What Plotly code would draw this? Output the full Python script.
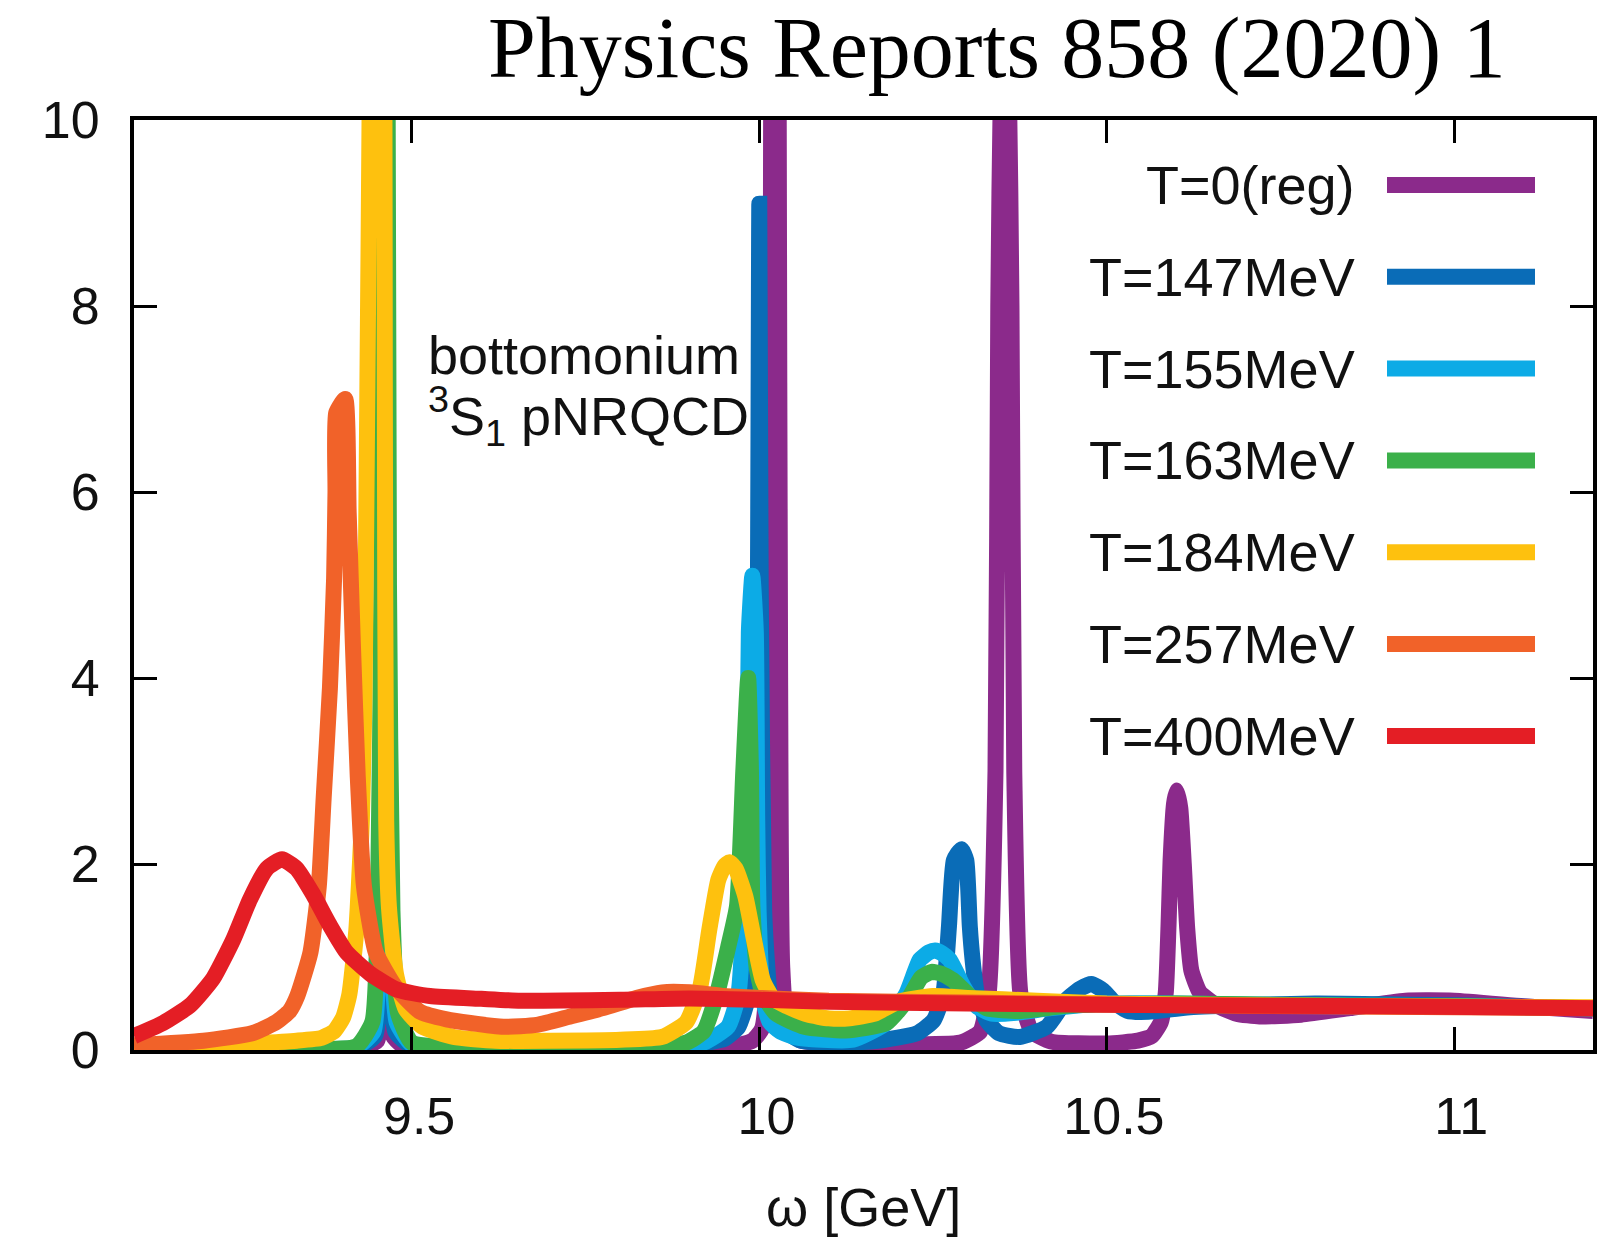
import plotly.graph_objects as go

# Bottomonium 3S1 spectral functions (pNRQCD) at several temperatures
labels = ["T=0(reg)", "T=147MeV", "T=155MeV", "T=163MeV", "T=184MeV", "T=257MeV", "T=400MeV"]
colors = ["#8B2A8B", "#0A6CB7", "#0CABE6", "#3BB04A", "#FEC10E", "#F16229", "#E41E25"]

omega_T0 = [9.10, 9.30, 9.42, 9.45, 9.456, 9.459, 9.4615, 9.464, 9.467, 9.473, 9.49, 9.60, 9.80,
            9.95, 9.99, 10.004, 10.012, 10.017, 10.0225, 10.028, 10.030, 10.033, 10.041, 10.06, 10.10,
            10.20, 10.29, 10.318, 10.330, 10.340, 10.344, 10.348, 10.3535, 10.359, 10.363, 10.367,
            10.376, 10.392, 10.42, 10.50, 10.545, 10.565, 10.578, 10.585, 10.589, 10.592, 10.597,
            10.601, 10.606, 10.611, 10.616, 10.622, 10.634, 10.658, 10.687, 10.72, 10.78, 10.85,
            10.93, 11.00, 11.10, 11.20]
rho_T0 = [0.0, 0.0, 0.01, 0.1, 0.8, 5.0, 30.0, 5.0, 0.8, 0.15, 0.03, 0.0, 0.0,
          0.02, 0.1, 0.23, 0.9, 10.0, 40.0, 10.0, 4.0, 0.9, 0.23, 0.1, 0.07,
          0.06, 0.08, 0.2, 0.6, 3.0, 8.0, 10.5, 11.5, 10.5, 8.0, 3.0,
          0.6, 0.2, 0.09, 0.07, 0.1, 0.15, 0.3, 0.61, 1.33, 2.04, 2.65,
          2.79, 2.6, 2.0, 1.3, 0.85, 0.62, 0.48, 0.39, 0.36, 0.38, 0.45,
          0.53, 0.53, 0.47, 0.42]

omega_T147 = [9.10, 9.30, 9.42, 9.447, 9.455, 9.459, 9.4615, 9.464, 9.468, 9.476, 9.50, 9.60, 9.80,
              9.90, 9.95, 9.97, 9.985, 9.993, 9.998, 10.000, 10.002, 10.007, 10.0115, 10.015, 10.03,
              10.06, 10.12, 10.17, 10.227, 10.251, 10.265, 10.273, 10.280, 10.291, 10.298, 10.303,
              10.307, 10.313, 10.327, 10.345, 10.375, 10.414, 10.442, 10.462, 10.478, 10.495, 10.51,
              10.53, 10.56, 10.62, 10.8, 11.0, 11.2]
rho_T147 = [0.0, 0.0, 0.02, 0.15, 1.0, 5.0, 30.0, 5.0, 1.0, 0.2, 0.04, 0.01, 0.02,
            0.05, 0.12, 0.25, 0.6, 1.5, 5.0, 9.1, 5.0, 1.5, 0.9, 0.6, 0.25,
            0.1, 0.08, 0.1, 0.18, 0.32, 0.61, 1.33, 2.04, 2.16, 2.04, 1.33,
            0.97, 0.61, 0.32, 0.18, 0.14, 0.25, 0.54, 0.66, 0.71, 0.64, 0.52,
            0.42, 0.41, 0.46, 0.5, 0.48, 0.45]

omega_T155 = [9.10, 9.30, 9.42, 9.445, 9.453, 9.458, 9.4615, 9.465, 9.47, 9.478, 9.50, 9.60, 9.80,
              9.88, 9.92, 9.955, 9.97, 9.978, 9.982, 9.985, 9.990, 9.995, 9.997, 9.999, 10.005,
              10.015, 10.03, 10.05, 10.09, 10.135, 10.183, 10.212, 10.231, 10.244, 10.253, 10.263,
              10.274, 10.294, 10.313, 10.335, 10.37, 10.42, 10.5, 10.6, 10.8, 11.0, 11.2]
rho_T155 = [0.0, 0.01, 0.03, 0.2, 1.2, 5.0, 25.0, 5.0, 1.2, 0.3, 0.06, 0.02, 0.03,
            0.05, 0.08, 0.25, 0.6, 1.5, 2.5, 4.5, 5.1, 4.5, 2.5, 1.5, 0.56,
            0.3, 0.2, 0.14, 0.11, 0.11, 0.29, 0.61, 0.97, 1.05, 1.07, 1.04,
            0.97, 0.68, 0.47, 0.39, 0.4, 0.45, 0.5, 0.5, 0.48, 0.47, 0.45]

omega_T163 = [9.10, 9.30, 9.42, 9.443, 9.451, 9.456, 9.4615, 9.467, 9.472, 9.48, 9.50, 9.60, 9.80,
              9.85, 9.895, 9.92, 9.939, 9.955, 9.968, 9.977, 9.984, 9.988, 9.990, 9.996, 10.005,
              10.024, 10.065, 10.124, 10.183, 10.216, 10.233, 10.248, 10.262, 10.279, 10.303, 10.327,
              10.375, 10.45, 10.6, 10.8, 11.0, 11.2]
rho_T163 = [0.01, 0.02, 0.04, 0.3, 1.5, 5.0, 20.0, 5.0, 1.5, 0.4, 0.08, 0.03, 0.03,
            0.04, 0.08, 0.2, 0.6, 1.1, 1.55, 3.0, 4.0, 3.0, 1.55, 0.9, 0.6,
            0.39, 0.25, 0.21, 0.29, 0.57, 0.78, 0.84, 0.82, 0.75, 0.58, 0.45,
            0.42, 0.48, 0.5, 0.48, 0.47, 0.45]

omega_T184 = [9.10, 9.20, 9.334, 9.37, 9.388, 9.401, 9.41, 9.42, 9.428, 9.432, 9.436, 9.439, 9.443,
              9.449, 9.455, 9.4605, 9.461, 9.463, 9.467, 9.477, 9.491, 9.515, 9.56, 9.62, 9.70,
              9.80, 9.86, 9.895, 9.915, 9.928, 9.941, 9.95, 9.957, 9.966, 9.98, 9.992, 10.005,
              10.02, 10.04, 10.07, 10.10, 10.13, 10.166, 10.20, 10.25, 10.30, 10.40, 10.50, 10.70,
              10.90, 11.20]
rho_T184 = [0.03, 0.04, 0.1, 0.13, 0.2, 0.35, 0.6, 1.29, 2.47, 3.9, 7.2, 10.0, 16.0,
            22.0, 16.0, 10.0, 7.2, 2.47, 1.53, 0.82, 0.44, 0.25, 0.14, 0.1, 0.1,
            0.11, 0.14, 0.3, 0.68, 1.29, 1.83, 1.98, 2.02, 1.95, 1.65, 1.2, 0.75,
            0.55, 0.47, 0.38, 0.34, 0.34, 0.39, 0.52, 0.58, 0.56, 0.53, 0.5, 0.48,
            0.47, 0.46]

omega_T257 = [9.10, 9.20, 9.27, 9.305, 9.324, 9.335, 9.354, 9.366, 9.373, 9.382, 9.388, 9.390,
              9.391, 9.404, 9.409, 9.415, 9.422, 9.431, 9.448, 9.477, 9.512, 9.55, 9.584, 9.632,
              9.68, 9.728, 9.775, 9.823, 9.86, 9.90, 9.95, 10.0, 10.1, 10.3, 10.5, 10.8, 11.2]
rho_T257 = [0.05, 0.1, 0.18, 0.3, 0.42, 0.58, 1.05, 1.76, 2.71, 3.89, 5.07, 6.0,
            6.85, 7.0, 5.78, 4.37, 2.95, 1.76, 1.05, 0.67, 0.41, 0.33, 0.29, 0.25,
            0.27, 0.36, 0.45, 0.56, 0.62, 0.62, 0.58, 0.56, 0.53, 0.51, 0.49, 0.47, 0.45]

omega_T400 = [9.10, 9.142, 9.181, 9.214, 9.243, 9.267, 9.291, 9.313, 9.334, 9.358, 9.382, 9.406,
              9.44, 9.478, 9.526, 9.60, 9.656, 9.80, 9.90, 10.0, 10.1, 10.3, 10.6, 10.9, 11.2]
rho_T400 = [0.15, 0.29, 0.48, 0.77, 1.19, 1.62, 1.95, 2.05, 1.95, 1.67, 1.34, 1.05,
            0.82, 0.65, 0.58, 0.55, 0.53, 0.54, 0.555, 0.54, 0.52, 0.5, 0.48, 0.47, 0.45]

omegas = [omega_T0, omega_T147, omega_T155, omega_T163, omega_T184, omega_T257, omega_T400]
rhos = [rho_T0, rho_T147, rho_T155, rho_T163, rho_T184, rho_T257, rho_T400]

x_ticks = [9.5, 10, 10.5, 11]
x_ticktext = ["9.5", "10", "10.5", "11"]
y_ticks = [0, 2, 4, 6, 8, 10]

SANS = "Liberation Sans, Arial, sans-serif"
LINE_W = 16
NBSP = "\u00a0"

fig = go.Figure()

# channel label, placed underneath the curves
fig.add_trace(go.Scatter(
    x=[9.523, 9.523], y=[7.41, 6.76], mode="text",
    text=["bottomonium", "<sup>3</sup>S<sub>1</sub> pNRQCD"],
    textposition="middle right",
    textfont=dict(family=SANS, size=54, color="#111"),
    showlegend=False, hoverinfo="skip"))

for lab, col, xs, ys in zip(labels, colors, omegas, rhos):
    fig.add_trace(go.Scatter(
        x=xs, y=ys, mode="lines", name=lab,
        line=dict(color=col, width=LINE_W, shape="spline", smoothing=0.5),
        showlegend=False))

# hand-placed key: right-aligned labels with line samples on their right
leg_y_px = [184.9, 276.7, 368.6, 460.4, 552.2, 644.1, 735.9]
plot_top, plot_bottom, plot_left, plot_right = 120, 1050, 134, 1593
for lab, col, ypx in zip(labels, colors, leg_y_px):
    py = (plot_bottom - ypx) / (plot_bottom - plot_top)
    fig.add_annotation(x=(1357 - plot_left) / (plot_right - plot_left), y=py,
                       xref="paper", yref="paper", xanchor="right", yanchor="middle",
                       text=lab, showarrow=False,
                       font=dict(family=SANS, size=54, color="#111"))
    fig.add_shape(type="line", xref="paper", yref="paper",
                  x0=(1387 - plot_left) / (plot_right - plot_left),
                  x1=(1535 - plot_left) / (plot_right - plot_left),
                  y0=py, y1=py, line=dict(color=col, width=16))

fig.add_annotation(x=(997 - plot_left) / (plot_right - plot_left), y=1 + (120 - 48) / 930,
                   xref="paper", yref="paper", xanchor="center", yanchor="middle",
                   text="Physics Reports 858 (2020) 1", showarrow=False,
                   font=dict(family="Liberation Serif, Times New Roman, serif", size=86, color="black"))

fig.add_annotation(x=0.5, y=(1050 - 1207) / 930, xref="paper", yref="paper",
                   xanchor="center", yanchor="middle", text="ω [GeV]", showarrow=False,
                   font=dict(family=SANS, size=54, color="#111"))

axis_common = dict(showline=True, linecolor="black", linewidth=4, mirror="ticks",
                   ticks="inside", ticklen=23, tickwidth=3, tickcolor="black",
                   showgrid=False, zeroline=False,
                   tickfont=dict(family=SANS, size=52, color="#111"))

fig.update_xaxes(range=[9.1, 11.2], tickvals=x_ticks,
                 ticktext=[NBSP + t for t in x_ticktext],
                 ticklabelstandoff=18, **axis_common)
fig.update_yaxes(range=[0, 10], tickvals=y_ticks, ticklabelstandoff=20, **axis_common)

fig.update_layout(width=1613, height=1240,
                  margin=dict(l=134, r=20, t=120, b=190),
                  plot_bgcolor="white", paper_bgcolor="white",
                  showlegend=False)

fig.write_html("out.html")
